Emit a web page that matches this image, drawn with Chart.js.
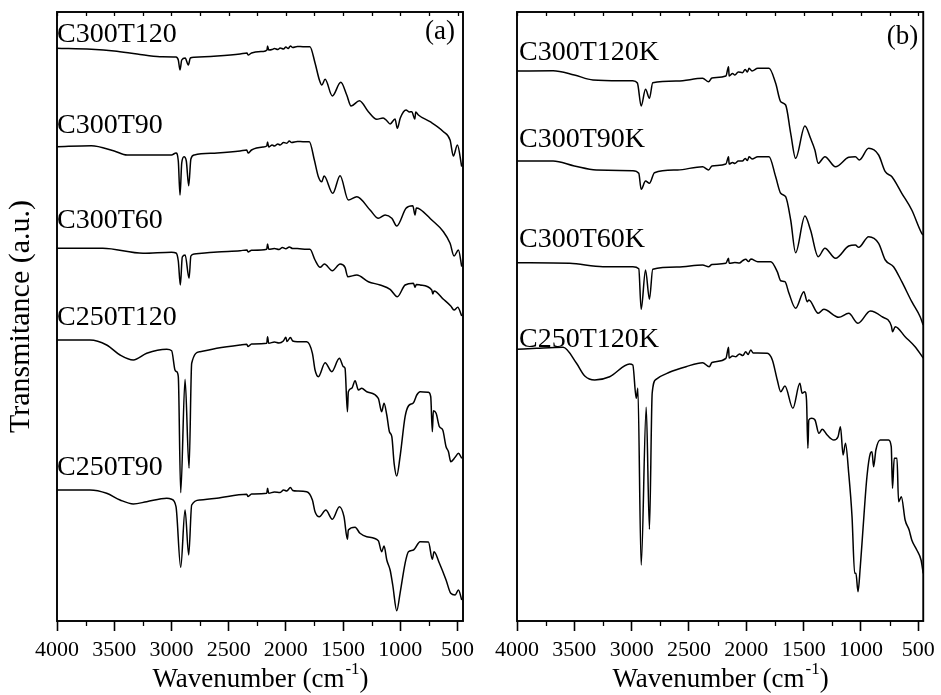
<!DOCTYPE html>
<html>
<head>
<meta charset="utf-8">
<style>
  body { margin: 0; background: #fff; }
  #wrap { position: relative; width: 941px; height: 695px; }
  #wrap canvas { position: absolute; left: 0; top: 0; }
</style>
</head>
<body>
<div id="wrap">
  <canvas id="panelA" width="941" height="695"></canvas>
  <canvas id="panelB" width="941" height="695"></canvas>
</div>
<script src="https://cdn.jsdelivr.net/npm/chart.js"></script>
<script>
// FTIR spectra, [wavenumber (cm-1), transmittance (a.u., stacked)]
const wavenumberTicks = [4000, 3500, 3000, 2500, 2000, 1500, 1000, 500];

const namesA = ['C300T120', 'C300T90', 'C300T60', 'C250T120', 'C250T90'];
const namesB = ['C300T120K', 'C300T90K', 'C300T60K', 'C250T120K'];

const c300t120 = [[4000,572.7],[3700,571.7],[3500,570],[3300,567],[3100,564.3],[2960,564],[2940,561],[2925,551],[2910,561],[2880,563],[2852,556],[2835,563],[2800,563.7],[2600,565],[2400,567],[2340,568],[2330,566],[2300,568],[2200,569.5],[2165,571],[2160,575],[2150,571],[2120,571.5],[2100,572.5],[2070,571.5],[2050,573],[2020,572],[2000,574],[1980,572.5],[1960,575],[1940,573.5],[1900,574.5],[1850,574.3],[1790,574.3],[1745,558],[1707,541],[1686,536],[1657,541.7],[1594,525],[1520,538.7],[1468,526],[1430,515],[1357,520.3],[1279,509.3],[1206,501.7],[1150,503],[1118,500.3],[1089,497],[1046,502],[1026,492.7],[1000,503],[950,511],[920,509],[900,509.3],[873,502],[865,509],[842,506],[740,499.3],[623,489.3],[565,481],[536,465],[501,476],[463,454.3]];

const c300t90 = [[4000,474.3],[3700,475.3],[3500,470],[3388,466],[3200,466],[3000,466],[2960,468],[2940,460],[2925,426],[2910,458],[2890,464.3],[2870,460],[2849,435.3],[2830,462],[2800,466],[2600,468],[2400,470],[2342,471],[2330,468],[2300,471],[2200,474],[2167,475],[2160,479],[2150,474],[2120,476],[2100,475],[2070,477],[2050,476],[2020,478.5],[1992,477.7],[1970,480],[1950,478.5],[1900,479.5],[1850,479.3],[1795,479.3],[1751,461],[1716,444.3],[1686,439.3],[1666,445],[1590,427.7],[1526,445.3],[1454,421],[1380,424.3],[1264,411],[1192,402.7],[1133,406],[1074,402.7],[1031,395],[950,412.7],[891,415.3],[871,406],[860,413],[827,411.7],[725,401],[623,389.3],[565,377.7],[530,365],[492,371],[463,354.3]];

const c300t60 = [[4000,372.7],[3600,372.7],[3248,367.7],[3000,368.7],[2960,368],[2940,360],[2922,336],[2905,364],[2880,366],[2846,342.7],[2830,365],[2800,367],[2600,369],[2400,370.3],[2340,371],[2330,369],[2300,370.7],[2167,371.7],[2160,377],[2150,371.7],[2100,372.5],[2060,371.5],[2030,373.5],[2000,372.3],[1970,374],[1940,372.5],[1900,372.5],[1818,371.7],[1790,371.7],[1745,361],[1701,353.7],[1663,357],[1594,350.3],[1526,357],[1483,353.7],[1459,344.3],[1380,346],[1279,339.3],[1177,336],[1089,331.7],[1026,324.3],[958,336],[885,337.7],[871,333.7],[860,336.5],[827,336],[725,331],[716,327],[705,330],[623,321.7],[559,315],[530,311],[498,313.7],[463,305]];

const c250t120 = [[4000,281],[3712,281],[3566,276],[3449,266],[3333,261],[3216,267.7],[3041,271.7],[2998,270.3],[2969,251],[2955,249.3],[2940,244.3],[2919,128.3],[2881,241.7],[2846,152.7],[2823,257.7],[2750,269.3],[2604,272.7],[2400,276],[2342,276.7],[2330,274.5],[2300,277],[2167,277.7],[2160,284.3],[2150,277.7],[2100,279],[2060,278],[2022,280],[2000,283.7],[1990,279.5],[1960,283.5],[1940,280],[1900,279.3],[1818,279.3],[1768,267.7],[1745,251],[1716,244.3],[1657,258.3],[1599,249.3],[1532,262.7],[1497,254.3],[1483,252.7],[1462,209.3],[1454,229.3],[1424,232.7],[1395,240.3],[1366,231],[1337,232.7],[1293,229.3],[1192,222.7],[1163,209.3],[1142,217.7],[1118,206],[1095,189.3],[1074,184.3],[1054,157.7],[1031,145],[1002,164.3],[958,204.3],[929,215],[885,218.3],[856,226],[827,229.3],[754,228.7],[734,224.3],[720,189.3],[711,210.3],[687,207.7],[658,194.3],[629,191],[600,174.3],[579,169.3],[559,159.3],[521,163.7],[492,167.7],[463,162.7]];

const c250t90 = [[4000,131],[3712,131],[3566,127.7],[3449,121],[3333,117],[3216,119.3],[3041,122.7],[2998,121.7],[2960,114.3],[2919,53.7],[2881,111],[2849,66],[2823,116],[2750,121],[2604,122.7],[2342,126.7],[2330,124.5],[2300,127],[2167,127.7],[2160,132.7],[2150,127.7],[2100,129],[2050,128.5],[2020,131],[1992,130],[1960,133.5],[1940,130.5],[1900,130],[1818,129.3],[1768,121],[1745,109.3],[1707,104.3],[1651,111],[1594,101.7],[1532,114.3],[1492,104.3],[1462,81.7],[1454,91],[1395,93.7],[1352,87.7],[1293,84.3],[1192,80.3],[1163,69.3],[1142,75],[1118,61],[1089,51],[1066,36],[1031,10.3],[1002,27.7],[958,57.7],[929,69.3],[885,71],[827,79.3],[754,79],[720,61.7],[705,69.3],[658,57.7],[600,41],[559,27.7],[521,26],[492,31],[463,21]];

const c300t120k = [[4000,550],[3685,550.3],[3500,546],[3337,541],[3100,540.3],[2990,540.3],[2950,538],[2917,515],[2879,531.7],[2845,522.7],[2816,538.3],[2600,540],[2381,542.7],[2329,539.3],[2300,543],[2178,545],[2155,554.3],[2150,545],[2120,547.5],[2100,546],[2070,549],[2034,548.3],[2010,551.5],[1990,549],[1976,552.7],[1950,550],[1900,552.7],[1817,552.7],[1802,552.7],[1744,537.7],[1700,519.3],[1657,516],[1613,487.7],[1570,462.7],[1489,495],[1440,482.7],[1402,471],[1373,457.7],[1315,464.3],[1222,454.3],[1107,463.7],[1049,464.3],[1014,461],[933,472.7],[846,466],[788,449.3],[730,444.3],[644,427.7],[557,411],[470,387.7],[457,386]];

const c300t90k = [[4000,460],[3685,460],[3500,455],[3308,451],[2990,450.3],[2938,447.7],[2917,431.7],[2879,440],[2845,437.7],[2801,448.3],[2600,451],[2381,454.3],[2329,451],[2300,455],[2178,457],[2155,464.3],[2150,457],[2120,458.5],[2100,457.5],[2070,460],[2034,460],[2010,462.5],[1990,460.5],[1976,464.3],[1950,462],[1900,464.3],[1802,464.3],[1744,444.3],[1700,427.7],[1657,424.3],[1613,401],[1570,368.3],[1489,405],[1440,391],[1373,364.3],[1315,372.7],[1222,362.7],[1107,375],[1049,376],[1020,373.7],[933,384.3],[846,377.7],[788,361],[716,354.3],[644,339.3],[557,319.3],[484,304.3],[457,296]];

const c300t60k = [[4000,358.3],[3540,357.7],[3250,354.3],[2990,354.3],[2938,352.3],[2917,311.7],[2879,351],[2845,321.7],[2816,351.7],[2600,354],[2381,356],[2329,354.3],[2300,356.5],[2178,357.7],[2155,362.7],[2150,357.7],[2100,358.5],[2060,358],[2030,360.5],[2005,361.7],[1980,359.5],[1960,362],[1900,359.3],[1787,359.3],[1730,349.3],[1700,340.3],[1663,339.3],[1628,327.7],[1570,312.7],[1498,329.3],[1469,319.3],[1454,321],[1373,307.7],[1324,311.7],[1194,303.7],[1107,307.7],[1026,297.7],[918,310],[817,304.3],[735,295],[725,289.3],[701,294.3],[615,284.3],[528,274.3],[457,263]];

const c250t120k = [[4000,271.7],[3829,272.7],[3598,273.7],[3481,257.7],[3409,245],[3322,241],[3192,244.3],[3018,257],[2990,256],[2960,222.7],[2946,232.7],[2917,56],[2873,213.7],[2845,91.7],[2821,227.7],[2787,241.7],[2671,248.7],[2526,254.3],[2381,258.3],[2323,254.3],[2300,258.5],[2178,262.7],[2155,273.7],[2150,263],[2120,265],[2091,264.3],[2060,267],[2030,265.5],[2005,269.3],[1985,266.5],[1961,271],[1940,268],[1900,268],[1817,267.7],[1773,261],[1730,241],[1700,229.3],[1663,235],[1594,212.7],[1533,237.7],[1513,227.7],[1489,229.3],[1475,221],[1463,172.7],[1455,201],[1430,202.7],[1401,201],[1367,187.7],[1338,191.7],[1295,186],[1237,181],[1200,184.3],[1179,194.3],[1156,166],[1135,177.7],[1107,147.7],[1078,104.3],[1055,47.7],[1044,47.7],[1026,29.3],[1006,54.3],[985,87.7],[948,144.3],[918,167.7],[904,169.3],[890,154.3],[870,171],[832,181],[759,181],[736,174.3],[725,132.7],[710,162.7],[686,162.7],[672,119.3],[648,124.3],[615,101],[580,91],[557,81],[513,71],[476,61],[457,47.7]];

// where each sample name sits (baseline, same units as the spectra)
const nameLevelsA = [579, 487.7, 392.7, 296, 146];
const nameLevelsB = [561, 474.3, 373.7, 274];

const SERIF = '"Liberation Serif", "Times New Roman", serif';

// frame, minor/top ticks, sample names, panel letter and the x title
const panelDecor = {
  id: 'panelDecor',
  afterDraw(chart, args, o) {
    const {ctx, chartArea: a, scales: {x, y}} = chart;
    ctx.save();
    ctx.strokeStyle = '#000';
    ctx.lineWidth = 1.3;
    ctx.beginPath();
    for (let w = 500; w <= 4000; w += 250) {
      const px = Math.round(x.getPixelForValue(w)) + 0.5;
      if (w % 500 !== 0) { ctx.moveTo(px, a.bottom); ctx.lineTo(px, a.bottom + 5); }
      ctx.moveTo(px, a.top); ctx.lineTo(px, a.top + 4);
    }
    ctx.stroke();
    ctx.lineWidth = 1.9;
    ctx.strokeRect(a.left, a.top, a.right - a.left, a.bottom - a.top);

    ctx.fillStyle = '#000';
    ctx.font = '28px ' + SERIF;
    ctx.textBaseline = 'alphabetic';
    ctx.textAlign = 'left';
    o.names.forEach((name, i) => {
      ctx.fillText(name, a.left + o.nameIndent, y.getPixelForValue(o.nameLevels[i]));
    });
    ctx.font = '27px ' + SERIF;
    ctx.textAlign = 'right';
    ctx.fillText(o.letter, a.right - o.letterInset, a.top + o.letterDrop);

    // Wavenumber (cm^-1)
    const main = 'Wavenumber (cm', sup = '-1', tail = ')';
    ctx.textAlign = 'left';
    ctx.font = '27px ' + SERIF;
    const w1 = ctx.measureText(main).width;
    const w3 = ctx.measureText(tail).width;
    ctx.font = '17px ' + SERIF;
    const w2 = ctx.measureText(sup).width;
    const x0 = (a.left + a.right) / 2 - (w1 + w2 + w3) / 2;
    const base = a.bottom + 66;
    ctx.font = '27px ' + SERIF;
    ctx.fillText(main, x0, base);
    ctx.font = '17px ' + SERIF;
    ctx.fillText(sup, x0 + w1 + 1, base - 13);
    ctx.font = '27px ' + SERIF;
    ctx.fillText(tail, x0 + w1 + w2 + 1, base);
    ctx.restore();
  }
};

function makePanel(id, series, names, cfg) {
  return new Chart(document.getElementById(id), {
    type: 'line',
    data: {
      datasets: series.map((d, i) => ({
        label: names[i],
        data: d,
        borderColor: '#000',
        borderWidth: 1.5,
        pointRadius: 0,
        cubicInterpolationMode: 'monotone',
        fill: false
      }))
    },
    options: {
      responsive: false,
      animation: false,
      events: [],
      layout: { padding: { left: 0, top: 12, right: cfg.padRight, bottom: 0 } },
      plugins: {
        legend: { display: false },
        tooltip: { enabled: false },
        panelDecor: {
          names: names,
          nameLevels: cfg.nameLevels,
          nameIndent: cfg.nameIndent,
          letter: cfg.letter,
          letterInset: cfg.letterInset,
          letterDrop: cfg.letterDrop
        }
      },
      scales: {
        x: {
          type: 'linear',
          reverse: true,
          min: cfg.xMin,
          max: 4000,
          afterBuildTicks: s => { s.ticks = wavenumberTicks.map(v => ({ value: v })); },
          afterFit: s => { s.height = 74; },
          ticks: {
            autoSkip: false,
            maxRotation: 0,
            padding: 6,
            color: '#000',
            font: { family: SERIF, size: 22 },
            callback: v => String(v)
          },
          grid: { drawOnChartArea: false, tickLength: 10, tickWidth: 1.6, color: '#000' },
          border: { display: false }
        },
        y: {
          min: 0,
          max: 609,
          afterFit: s => { s.width = cfg.yWidth; },
          ticks: { display: false },
          grid: { display: false },
          border: { display: false },
          title: {
            display: cfg.yTitle,
            text: 'Transmitance (a.u.)',
            color: '#000',
            font: { family: SERIF, size: 30 },
            padding: { top: 3, bottom: 0 }
          }
        }
      }
    },
    plugins: [panelDecor]
  });
}

makePanel('panelA', [c300t120, c300t90, c300t60, c250t120, c250t90], namesA, {
  xMin: 452, padRight: 478, yWidth: 57, yTitle: true,
  nameLevels: nameLevelsA, nameIndent: 0,
  letter: '(a)', letterInset: 8, letterDrop: 27
});

makePanel('panelB', [c300t120k, c300t90k, c300t60k, c250t120k], namesB, {
  xMin: 457, padRight: 16, yWidth: 517, yTitle: false,
  nameLevels: nameLevelsB, nameIndent: 2,
  letter: '(b)', letterInset: 5, letterDrop: 32
});
</script>
</body>
</html>
